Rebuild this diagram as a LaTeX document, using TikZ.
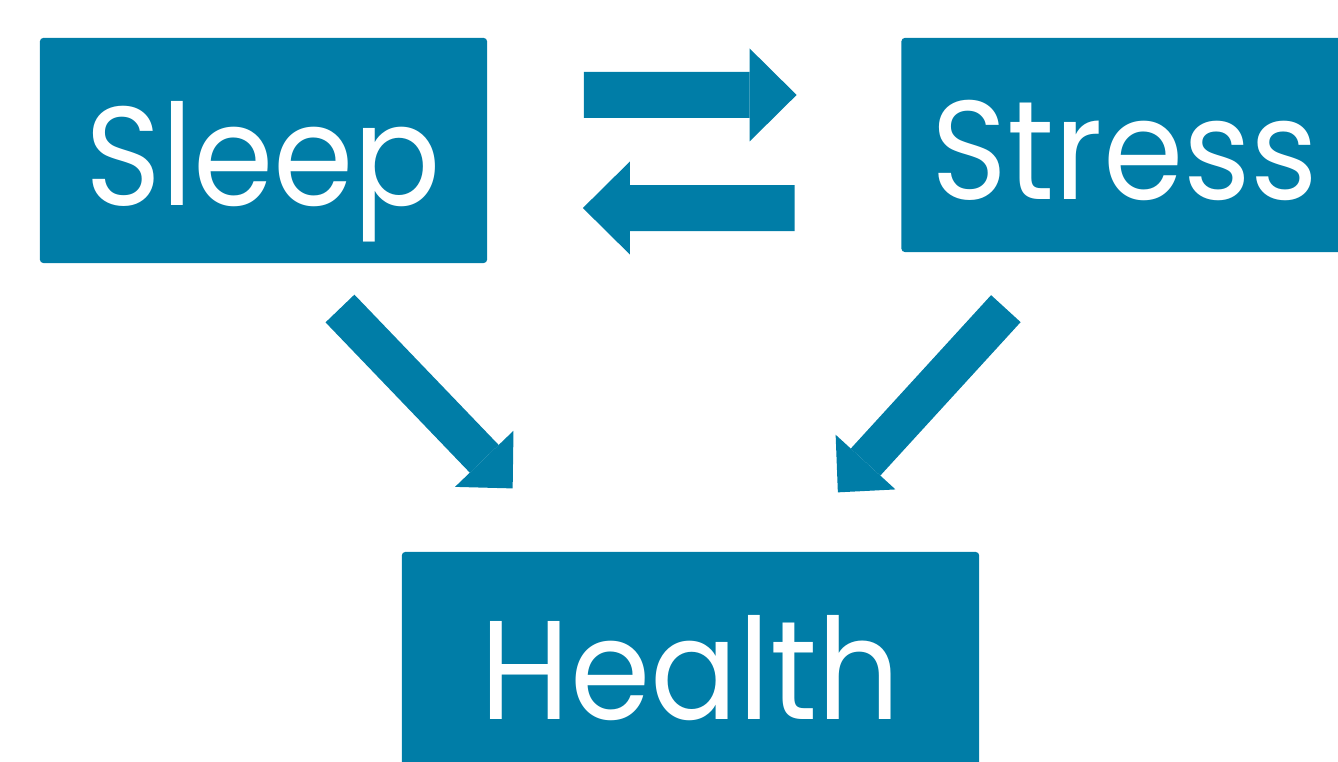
\documentclass[tikz,border=0pt]{standalone}
\usepackage{fontspec}
\setmainfont{Poppins}[FakeStretch=0.92]
\usetikzlibrary{arrows.meta}

\definecolor{boxblue}{RGB}{0,125,167}

\tikzset{
	box/.style = {fill=boxblue, text=white, rounded corners=1pt, inner sep=0pt,
		minimum width=4.47cm, minimum height=2.25cm, text height=1.25cm, text depth=0.16cm,
		font=\fontsize{40}{46}\selectfont},
	fat/.style = {boxblue, line width=4.6mm, -{Triangle[length=4.7mm, width=9.3mm, line width=0pt]}},
	slim/.style = {boxblue, line width=4mm, -{Triangle[length=4.1mm, width=8.1mm, line width=0pt]}}
}

\begin{document}
\begin{tikzpicture}[x=0.01cm, y=-0.01cm]
	\useasboundingbox (0, 0) rectangle (1338, 762);
	\node[box] (sleep) at (263.5, 150.5) {Sleep};
	\node[box, minimum height=2.14cm] (stress) at (1125, 145) {Stress};
	\node[box, minimum width=5.77cm] (health) at (690.5, 664.5) {Health};
	% the two way link between sleep and stress
	\draw[fat, shorten <=9.6mm, shorten >=10.4mm] ([yshift=5.55mm]sleep.east) -- ([yshift=5mm]stress.west);
	\draw[fat, shorten <=10.6mm, shorten >=9.5mm] ([yshift=-6.3mm]stress.west) -- ([yshift=-5.75mm]sleep.east);
	% both feed into health
	\draw[slim, shorten <=6.2mm, shorten >=8.7mm] ([xshift=3.35mm]sleep.south) -- ([xshift=-11.75mm]health.north);
	\draw[slim, shorten <=7.57mm, shorten >=7.97mm] ([xshift=-6.8mm]stress.south) -- ([xshift=9.35mm]health.north);
\end{tikzpicture}
\end{document}
